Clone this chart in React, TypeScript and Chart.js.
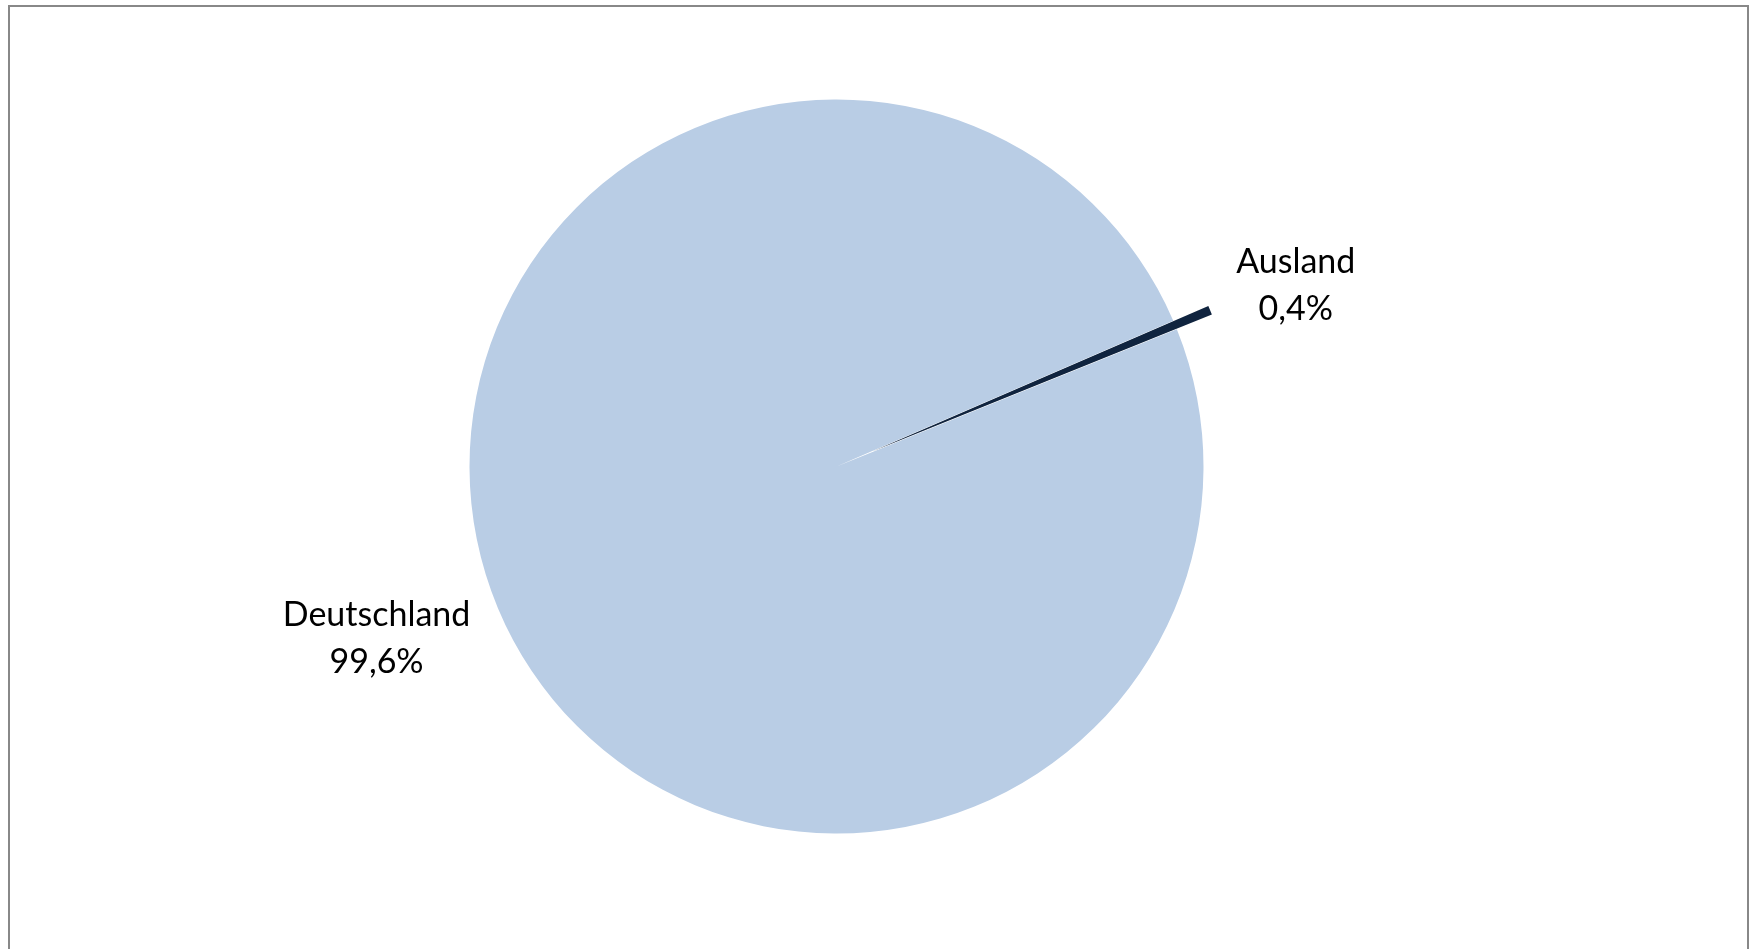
import React, { useEffect, useRef } from "react";
import { Chart, registerables } from "chart.js";

Chart.register(...registerables);

const categories = ["Ausland", "Deutschland"];
const shares = [0.4, 99.6];
const percentLabels = ["0,4%", "99,6%"];
const sliceColors = ["#10243F", "#B9CDE5"];

// Excel-style explosion: shift the whole slice outward without shrinking it.
const explodePlugin = {
  id: "explodeSlice",
  afterUpdate(chart: any, _args: any, opts: any) {
    const meta = chart.getDatasetMeta(0);
    meta.data.forEach((arc: any, i: number) => {
      const dist = opts.distances[i] || 0;
      if (!dist || arc.__exploded) return;
      const orig = arc.draw.bind(arc);
      arc.draw = (ctx: CanvasRenderingContext2D) => {
        const mid = (arc.startAngle + arc.endAngle) / 2;
        ctx.save();
        ctx.translate(Math.cos(mid) * dist, Math.sin(mid) * dist);
        orig(ctx);
        ctx.restore();
      };
      arc.__exploded = true;
    });
  },
};

const labelPlugin = {
  id: "excelLabels",
  afterDatasetsDraw(chart: any, _args: any, opts: any) {
    const ctx = chart.ctx;
    const meta = chart.getDatasetMeta(0);
    ctx.save();
    ctx.font = opts.font;
    ctx.fillStyle = opts.color;
    ctx.textAlign = "center";
    ctx.textBaseline = "middle";
    meta.data.forEach((arc: any, i: number) => {
      const p = arc.getProps(["x", "y", "startAngle", "endAngle", "outerRadius"], true);
      const mid = (p.startAngle + p.endAngle) / 2 + (opts.angleShift[i] * Math.PI) / 180;
      const d = p.outerRadius * opts.distance[i];
      const cx = p.x + Math.cos(mid) * d;
      const cy = p.y + Math.sin(mid) * d;
      const lh = opts.lineHeight;
      ctx.fillText(chart.data.labels[i], cx, cy - lh / 2);
      ctx.fillText(percentLabels[i], cx, cy + lh / 2);
    });
    ctx.restore();
  },
};

export default function App() {
  const ref = useRef<HTMLCanvasElement | null>(null);
  useEffect(() => {
    if (!ref.current) return;
    const chart = new Chart(ref.current, {
      type: "pie",
      data: {
        labels: categories,
        datasets: [
          {
            data: shares,
            backgroundColor: sliceColors,
            borderWidth: 0,
          },
        ],
      },
      options: {
        animation: false,
        responsive: false,
        rotation: 66.58,
        radius: 367,
        layout: { padding: { left: 0, right: 76, top: 1, bottom: 17 } },
        plugins: {
          legend: { display: false },
          tooltip: { enabled: false },
          explodeSlice: { distances: [38, 0] },
          excelLabels: {
            font: "34px Lato",
            color: "#000000",
            lineHeight: 47,
            distance: [1.345, 1.338],
            angleShift: [1.2, 2.2],
          },
        } as any,
      },
      plugins: [explodePlugin, labelPlugin],
    });
    return () => chart.destroy();
  }, []);
  return (
    <div style={{ position: "fixed", left: 0, top: 0, width: 1749, height: 949, background: "#fff", overflow: "hidden" }}>
      <canvas ref={ref} width={1749} height={949} style={{ position: "absolute", left: 0, top: 0 }} />
      <div
        style={{
          position: "absolute",
          left: 8,
          top: 5,
          width: 1737,
          height: 1000,
          border: "2px solid #888888",
          boxSizing: "content-box",
          pointerEvents: "none",
        }}
      />
    </div>
  );
}
